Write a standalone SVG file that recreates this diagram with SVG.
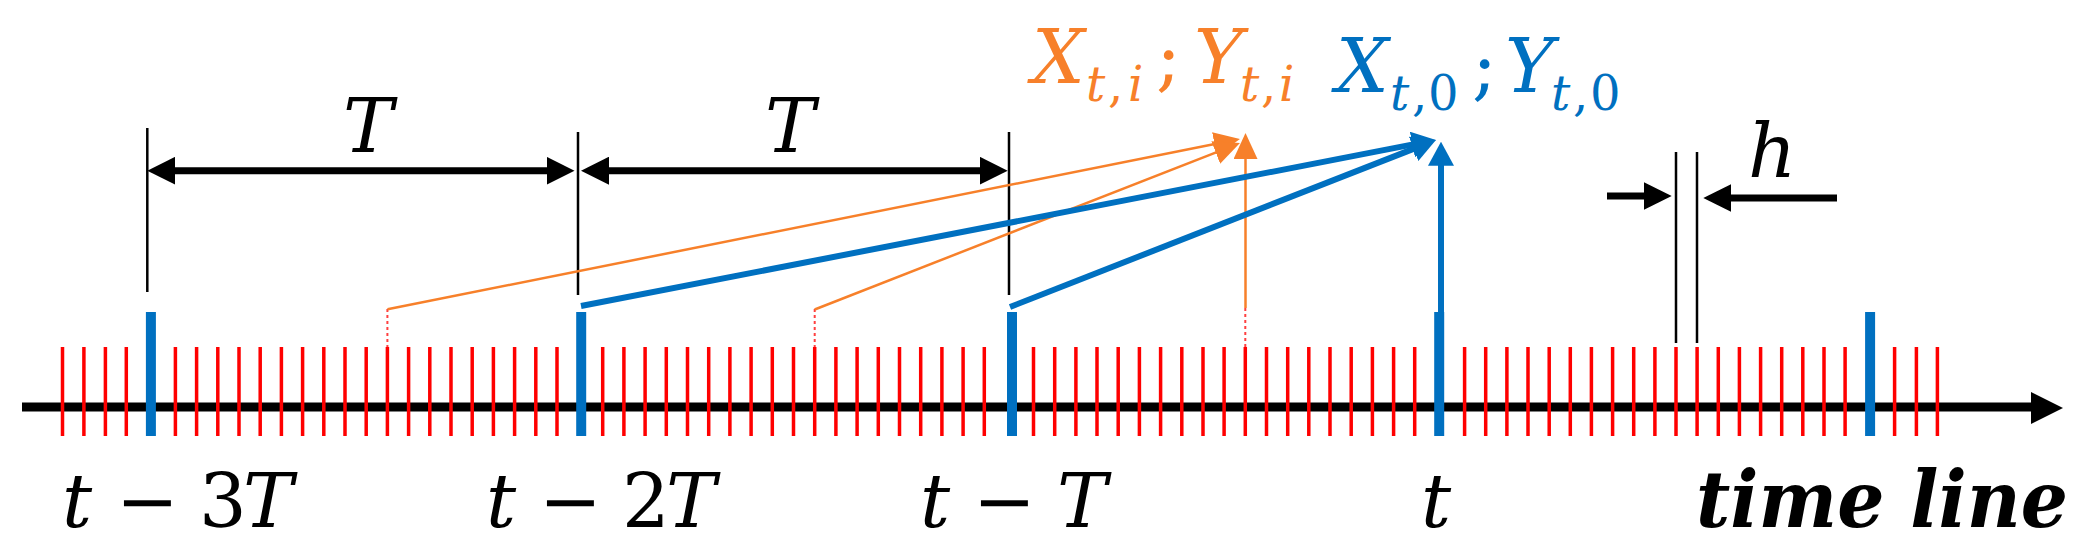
<svg xmlns="http://www.w3.org/2000/svg" width="2098" height="551" viewBox="0 0 2098 551">
<style>
.up{font-style:normal;}
.big{font-size:75px;}
.lab{font-size:74px;}
.sub{font-size:48px;}
.blk{fill:#000;}
.org{fill:#F7802A;}
.blu{fill:#0070C0;}
.tick-red{stroke:#FF0000;stroke-width:3.5;fill:none;}
.tick-blue{stroke:#0070C0;stroke-width:10;fill:none;}
.dim{stroke:#000;stroke-width:7;fill:none;}
.ext{stroke:#000;stroke-width:2.5;fill:none;}
.bl{stroke:#0070C0;stroke-width:6;fill:none;}
.ol{stroke:#F7802A;stroke-width:2.5;fill:none;}
.dot{stroke:#FF4040;stroke-width:2;stroke-dasharray:3 3;fill:none;}
</style>
<defs>
<marker id="arrBlack" viewBox="0 0 28 28" refX="8" refY="14" markerWidth="28" markerHeight="28" markerUnits="userSpaceOnUse" orient="auto-start-reverse"><path d="M0,0 L28,14 L0,28 z" fill="#000"/></marker>
<marker id="arrBlue" viewBox="0 0 24 26" refX="6" refY="13" markerWidth="24" markerHeight="26" markerUnits="userSpaceOnUse" orient="auto"><path d="M0,0 L24,13 L0,26 z" fill="#0070C0"/></marker>
<marker id="arrOrange" viewBox="0 0 26 24" refX="8" refY="12" markerWidth="26" markerHeight="24" markerUnits="userSpaceOnUse" orient="auto"><path d="M0,0 L26,12 L0,24 z" fill="#F7802A"/></marker>
</defs>
<rect width="2098" height="551" fill="#fff"/>

<g id="timeline">
<line x1="22" y1="407" x2="2036" y2="407" stroke="#000" stroke-width="9"/>
<polygon points="2031,392 2063,408 2031,424" fill="#000"/>
<path class="tick-red" d="M62.5 347V436M83.9 347V436M105.4 347V436M126.3 347V436
M175.4 347V436M196.6 347V436M217.8 347V436M239 347V436M260.2 347V436M281.4 347V436M302.6 347V436M323.8 347V436M345 347V436M366.2 347V436M387.4 347V436M408.6 347V436M429.8 347V436M451 347V436M472.2 347V436M493.4 347V436M514.6 347V436M535.8 347V436M557 347V436
M602.7 347V436M623.9 347V436M645.1 347V436M666.3 347V436M687.5 347V436M708.7 347V436M729.9 347V436M751.1 347V436M772.3 347V436M793.5 347V436M814.7 347V436M835.9 347V436M857.1 347V436M878.3 347V436M899.5 347V436M920.7 347V436M941.9 347V436M963.1 347V436M984.3 347V436
M1033.5 347V436M1054.7 347V436M1075.9 347V436M1097 347V436M1118.2 347V436M1139.4 347V436M1160.6 347V436M1181.8 347V436M1203 347V436M1224.1 347V436M1245.3 347V436M1266.5 347V436M1287.7 347V436M1308.8 347V436M1330 347V436M1351.2 347V436M1372.4 347V436M1393.6 347V436M1414.7 347V436
M1464.6 347V436M1485.7 347V436M1506.9 347V436M1528 347V436M1549.2 347V436M1570.3 347V436M1591.4 347V436M1612.6 347V436M1633.7 347V436M1654.9 347V436M1676 347V436M1697.1 347V436M1718.3 347V436M1739.4 347V436M1760.6 347V436M1781.7 347V436M1802.8 347V436M1824 347V436M1845.1 347V436
M1894.6 347V436M1916.4 347V436M1937.4 347V436"/>
<path class="tick-blue" d="M150.9 312V436M581.2 312V436M1012 312V436M1439.2 312V436M1870.1 312V436"/>
</g>

<g id="connectors">
<path class="ext" d="M147.3 128V292M578 132V295M1009 132V295M1676 152V343M1697 152V343"/>
<line class="dim" x1="167.3" y1="170.7" x2="554.5" y2="170.7" marker-start="url(#arrBlack)" marker-end="url(#arrBlack)"/>
<line class="dim" x1="601" y1="170.7" x2="987.7" y2="170.7" marker-start="url(#arrBlack)" marker-end="url(#arrBlack)"/>
<line class="dim" x1="1607" y1="196" x2="1651.7" y2="196" marker-end="url(#arrBlack)"/>
<line class="dim" x1="1837" y1="198" x2="1723.3" y2="198" marker-end="url(#arrBlack)"/>
<path class="dot" d="M387.4 309V347M814.7 309V347M1245.3 308V347"/>
<line class="ol" x1="387.5" y1="309.3" x2="1222.3" y2="142.5" marker-end="url(#arrOrange)"/>
<line class="ol" x1="814.7" y1="309.5" x2="1223.2" y2="149.6" marker-end="url(#arrOrange)"/>
<line class="ol" x1="1245.5" y1="308" x2="1245.5" y2="151" marker-end="url(#arrOrange)"/>
<line class="bl" x1="581" y1="306" x2="1418.3" y2="143.4" marker-end="url(#arrBlue)"/>
<line class="bl" x1="1010" y1="307" x2="1419.2" y2="146.6" marker-end="url(#arrBlue)"/>
<line class="bl" x1="1441" y1="312" x2="1441" y2="159.7" stroke-width="5.5" marker-end="url(#arrBlue)"/>
</g>

<g font-family="'DejaVu Serif', serif" font-style="italic">
<g id="label-T1"><text class="big blk" x="368" y="152" text-anchor="middle">T</text></g>
<g id="label-T2"><text class="big blk" x="790" y="152" text-anchor="middle">T</text></g>
<g id="label-h"><text class="big blk" x="1748" y="177">h</text></g>

<g id="label-Xti" class="org">
<text class="lab" x="1032" y="83">X</text>
<text class="sub" x="1086" y="101">t</text>
<text class="sub up" x="1108" y="101">,</text>
<text class="sub" x="1128" y="101">i</text>
<text class="lab up" x="1156" y="83">;</text>
<text class="lab" x="1194" y="83">Y</text>
<text class="sub" x="1240" y="101">t</text>
<text class="sub up" x="1261" y="101">,</text>
<text class="sub" x="1279" y="101">i</text>
</g>

<g id="label-Xt0" class="blu">
<text class="lab" x="1336" y="92">X</text>
<text class="sub" x="1390" y="110">t</text>
<text class="sub up" x="1412" y="110">,</text>
<text class="sub up" x="1428" y="110" font-size="50">0</text>
<text class="lab up" x="1472" y="92">;</text>
<text class="lab" x="1505" y="92">Y</text>
<text class="sub" x="1551" y="110">t</text>
<text class="sub up" x="1573" y="110">,</text>
<text class="sub up" x="1590" y="110" font-size="50">0</text>
</g>

<g id="label-t3T" class="big blk">
<text x="62" y="527">t</text><text class="up" x="116" y="527">−</text><text class="up" x="199" y="527">3</text><text x="243" y="527">T</text>
</g>
<g id="label-t2T" class="big blk">
<text x="486" y="527">t</text><text class="up" x="539" y="527">−</text><text class="up" x="622" y="527">2</text><text x="666" y="527">T</text>
</g>
<g id="label-tT" class="big blk">
<text x="920" y="527">t</text><text class="up" x="973" y="527">−</text><text x="1057" y="527">T</text>
</g>
<g id="label-t" class="big blk"><text x="1421" y="527">t</text></g>
</g>
<g id="label-timeline"><text x="1696" y="527" font-family="'DejaVu Serif',serif" font-style="italic" font-weight="bold" font-size="78" textLength="372" lengthAdjust="spacingAndGlyphs" fill="#000">time line</text></g>
</svg>
